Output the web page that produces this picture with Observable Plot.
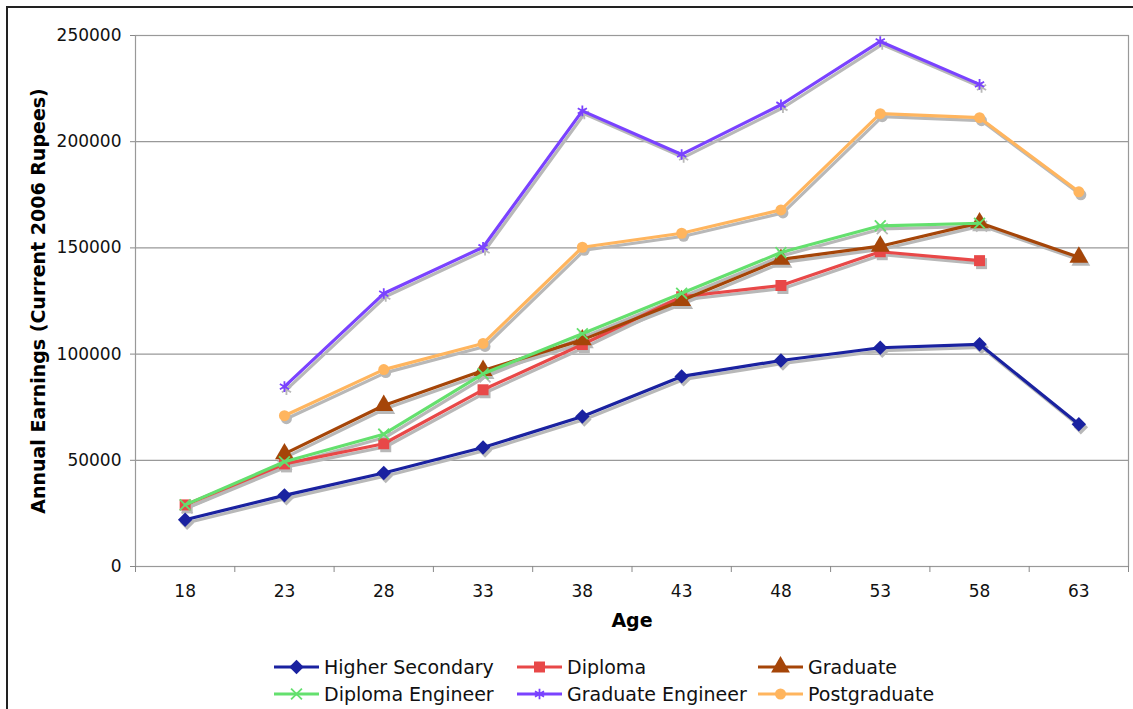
<!DOCTYPE html>
<html>
<head>
<meta charset="utf-8">
<script src="https://cdn.jsdelivr.net/npm/d3@7"></script>
<script src="https://cdn.jsdelivr.net/npm/@observablehq/plot@0.6"></script>
<style>
  html, body { margin: 0; padding: 0; background: #fff; }
  body { width: 1133px; height: 709px; position: relative; overflow: hidden; font-family: "DejaVu Sans", Verdana, sans-serif; }
  #frame { position: absolute; left: 6px; top: 6px; width: 1140px; height: 720px; border: 2px solid #222; pointer-events: none; }
  #chart { position: absolute; left: 0; top: 0; }
  #legend { position: absolute; left: 0; top: 654px; width: 1133px; height: 56px; }
  .item { position: absolute; display: flex; align-items: center; height: 26px; font-size: 19px; color: #111; white-space: nowrap; }
  .item svg { margin-right: 5px; }
</style>
</head>
<body>
<div id="chart"></div>
<div id="legend"></div>
<div id="frame"></div>
<script>
// Age groups (years) and annual earnings per education level, current 2006 rupees.
const ages = [18, 23, 28, 33, 38, 43, 48, 53, 58, 63];

const higherSecondary   = [22000, 33500, 44000, 56000, 70600, 89500, 97000, 103000, 104600, 67000];
const diploma           = [29000, 48300, 57800, 83200, 104500, 127000, 132300, 148200, 144000, null];
const graduate          = [null, 53000, 75800, 92300, 106700, 125200, 144600, 150800, 161800, 145600];
const diplomaEngineer   = [29000, 49300, 62300, 90700, 109600, 128600, 147800, 160400, 161600, null];
const graduateEngineer  = [null, 84700, 128500, 150300, 214500, 194000, 217400, 247200, 227000, null];
const postgraduate      = [null, 71000, 92700, 105000, 150300, 156900, 167900, 213200, 211300, 176400];

const seriesNames = ["Higher Secondary", "Diploma", "Graduate", "Diploma Engineer", "Graduate Engineer", "Postgraduate"];
const seriesValues = [higherSecondary, diploma, graduate, diplomaEngineer, graduateEngineer, postgraduate];
const seriesColors = ["#1a22a0", "#e84848", "#a54508", "#64e06e", "#7a42ff", "#ffb55e"];
const seriesSymbols = ["diamond2", "square", "triangle", "times", "asterisk", "circle"];
const seriesSizes = [6.5, 6.2, 7, 5, 5, 5.5];
const hollowSymbols = new Set(["times", "asterisk"]);

const yTicks = [0, 50000, 100000, 150000, 200000, 250000];

// Long-form rows, one per recorded value
const rows = [];
seriesNames.forEach((name, i) => {
  seriesValues[i].forEach((v, j) => {
    if (v != null) rows.push({series: name, age: ages[j], earnings: v});
  });
});

// Category slots are 5 years wide; boundaries sit halfway between ages
const step = 5;
const xDomain = [ages[0] - step / 2, ages[ages.length - 1] + step / 2];
const boundaries = d3.range(ages.length + 1).map(i => xDomain[0] + i * step);

const marks = [
  Plot.frame({stroke: "#999", strokeWidth: 1.2}),
  Plot.gridY(yTicks, {stroke: "#999", strokeOpacity: 1, strokeWidth: 1.2}),
  Plot.axisY(yTicks, {
    tickSize: 5, tickPadding: 9, stroke: "#888", fontSize: 17, fill: "#111",
    tickFormat: d => String(d), label: null
  }),
  Plot.axisX(boundaries, {tickSize: 6, stroke: "#888", tickFormat: () => "", label: null}),
  Plot.axisX(ages, {tickSize: 0, tickPadding: 18, fontSize: 17, fill: "#111", tickFormat: d => String(d), label: null}),
  Plot.text(["Annual Earnings (Current 2006 Rupees)"], {
    frameAnchor: "left", dx: -97, rotate: -90, textAnchor: "middle",
    fontSize: 19, fontWeight: "bold", fill: "#000"
  }),
  Plot.text(["Age"], {
    frameAnchor: "bottom", dy: 60, fontSize: 19, fontWeight: "bold", fill: "#000"
  })
];

// Soft drop shadows under every series
seriesNames.forEach((name, i) => {
  const data = rows.filter(d => d.series === name);
  marks.push(Plot.line(data, {x: "age", y: "earnings", stroke: "#b8b8b8", strokeWidth: 3.2, dx: 2, dy: 3}));
  marks.push(Plot.dot(data, {
    x: "age", y: "earnings", symbol: () => seriesSymbols[i], r: seriesSizes[i], dx: 2, dy: 3,
    fill: hollowSymbols.has(seriesSymbols[i]) ? "none" : "#b8b8b8",
    stroke: "#b8b8b8", strokeWidth: hollowSymbols.has(seriesSymbols[i]) ? 1.8 : 0
  }));
});

// Series lines with their markers
seriesNames.forEach((name, i) => {
  const data = rows.filter(d => d.series === name);
  const hollow = hollowSymbols.has(seriesSymbols[i]);
  marks.push(Plot.line(data, {x: "age", y: "earnings", stroke: seriesColors[i], strokeWidth: 3.2}));
  marks.push(Plot.dot(data, {
    x: "age", y: "earnings", symbol: () => seriesSymbols[i], r: seriesSizes[i],
    fill: hollow ? "none" : seriesColors[i], stroke: seriesColors[i], strokeWidth: hollow ? 1.8 : 0
  }));
});

const chart = Plot.plot({
  width: 1133,
  height: 640,
  marginLeft: 135,
  marginRight: 5,
  marginTop: 35,
  marginBottom: 74,
  style: {fontFamily: "'DejaVu Sans', Verdana, sans-serif", background: "transparent", overflow: "visible"},
  x: {type: "linear", domain: xDomain, axis: null},
  y: {domain: [0, 250000], axis: null},
  symbol: {type: "identity"},
  marks
});
document.getElementById("chart").appendChild(chart);

// Legend: three columns, two rows
const legendCols = [274, 517, 758];
const legendRows = [0, 27];
const legend = d3.select("#legend");
seriesNames.forEach((name, i) => {
  const col = [0, 1, 2, 0, 1, 2][i];
  const row = i < 3 ? 0 : 1;
  const item = legend.append("div").attr("class", "item")
    .style("left", legendCols[col] + "px").style("top", legendRows[row] + "px");
  const sw = item.append("svg").attr("width", 45).attr("height", 26);
  sw.append("line").attr("x1", 0).attr("x2", 45).attr("y1", 13).attr("y2", 13)
    .attr("stroke", seriesColors[i]).attr("stroke-width", 3.2);
  const symType = {
    diamond2: d3.symbolDiamond2, square: d3.symbolSquare, triangle: d3.symbolTriangle,
    times: d3.symbolTimes, asterisk: d3.symbolAsterisk, circle: d3.symbolCircle
  }[seriesSymbols[i]];
  const r = seriesSizes[i];
  const hollow = hollowSymbols.has(seriesSymbols[i]);
  sw.append("path").attr("transform", "translate(22.5,13)")
    .attr("d", d3.symbol(symType, r * r * Math.PI)())
    .attr("fill", hollow ? "none" : seriesColors[i])
    .attr("stroke", seriesColors[i]).attr("stroke-width", hollow ? 1.8 : 0);
  item.append("span").text(name);
});
</script>
</body>
</html>
